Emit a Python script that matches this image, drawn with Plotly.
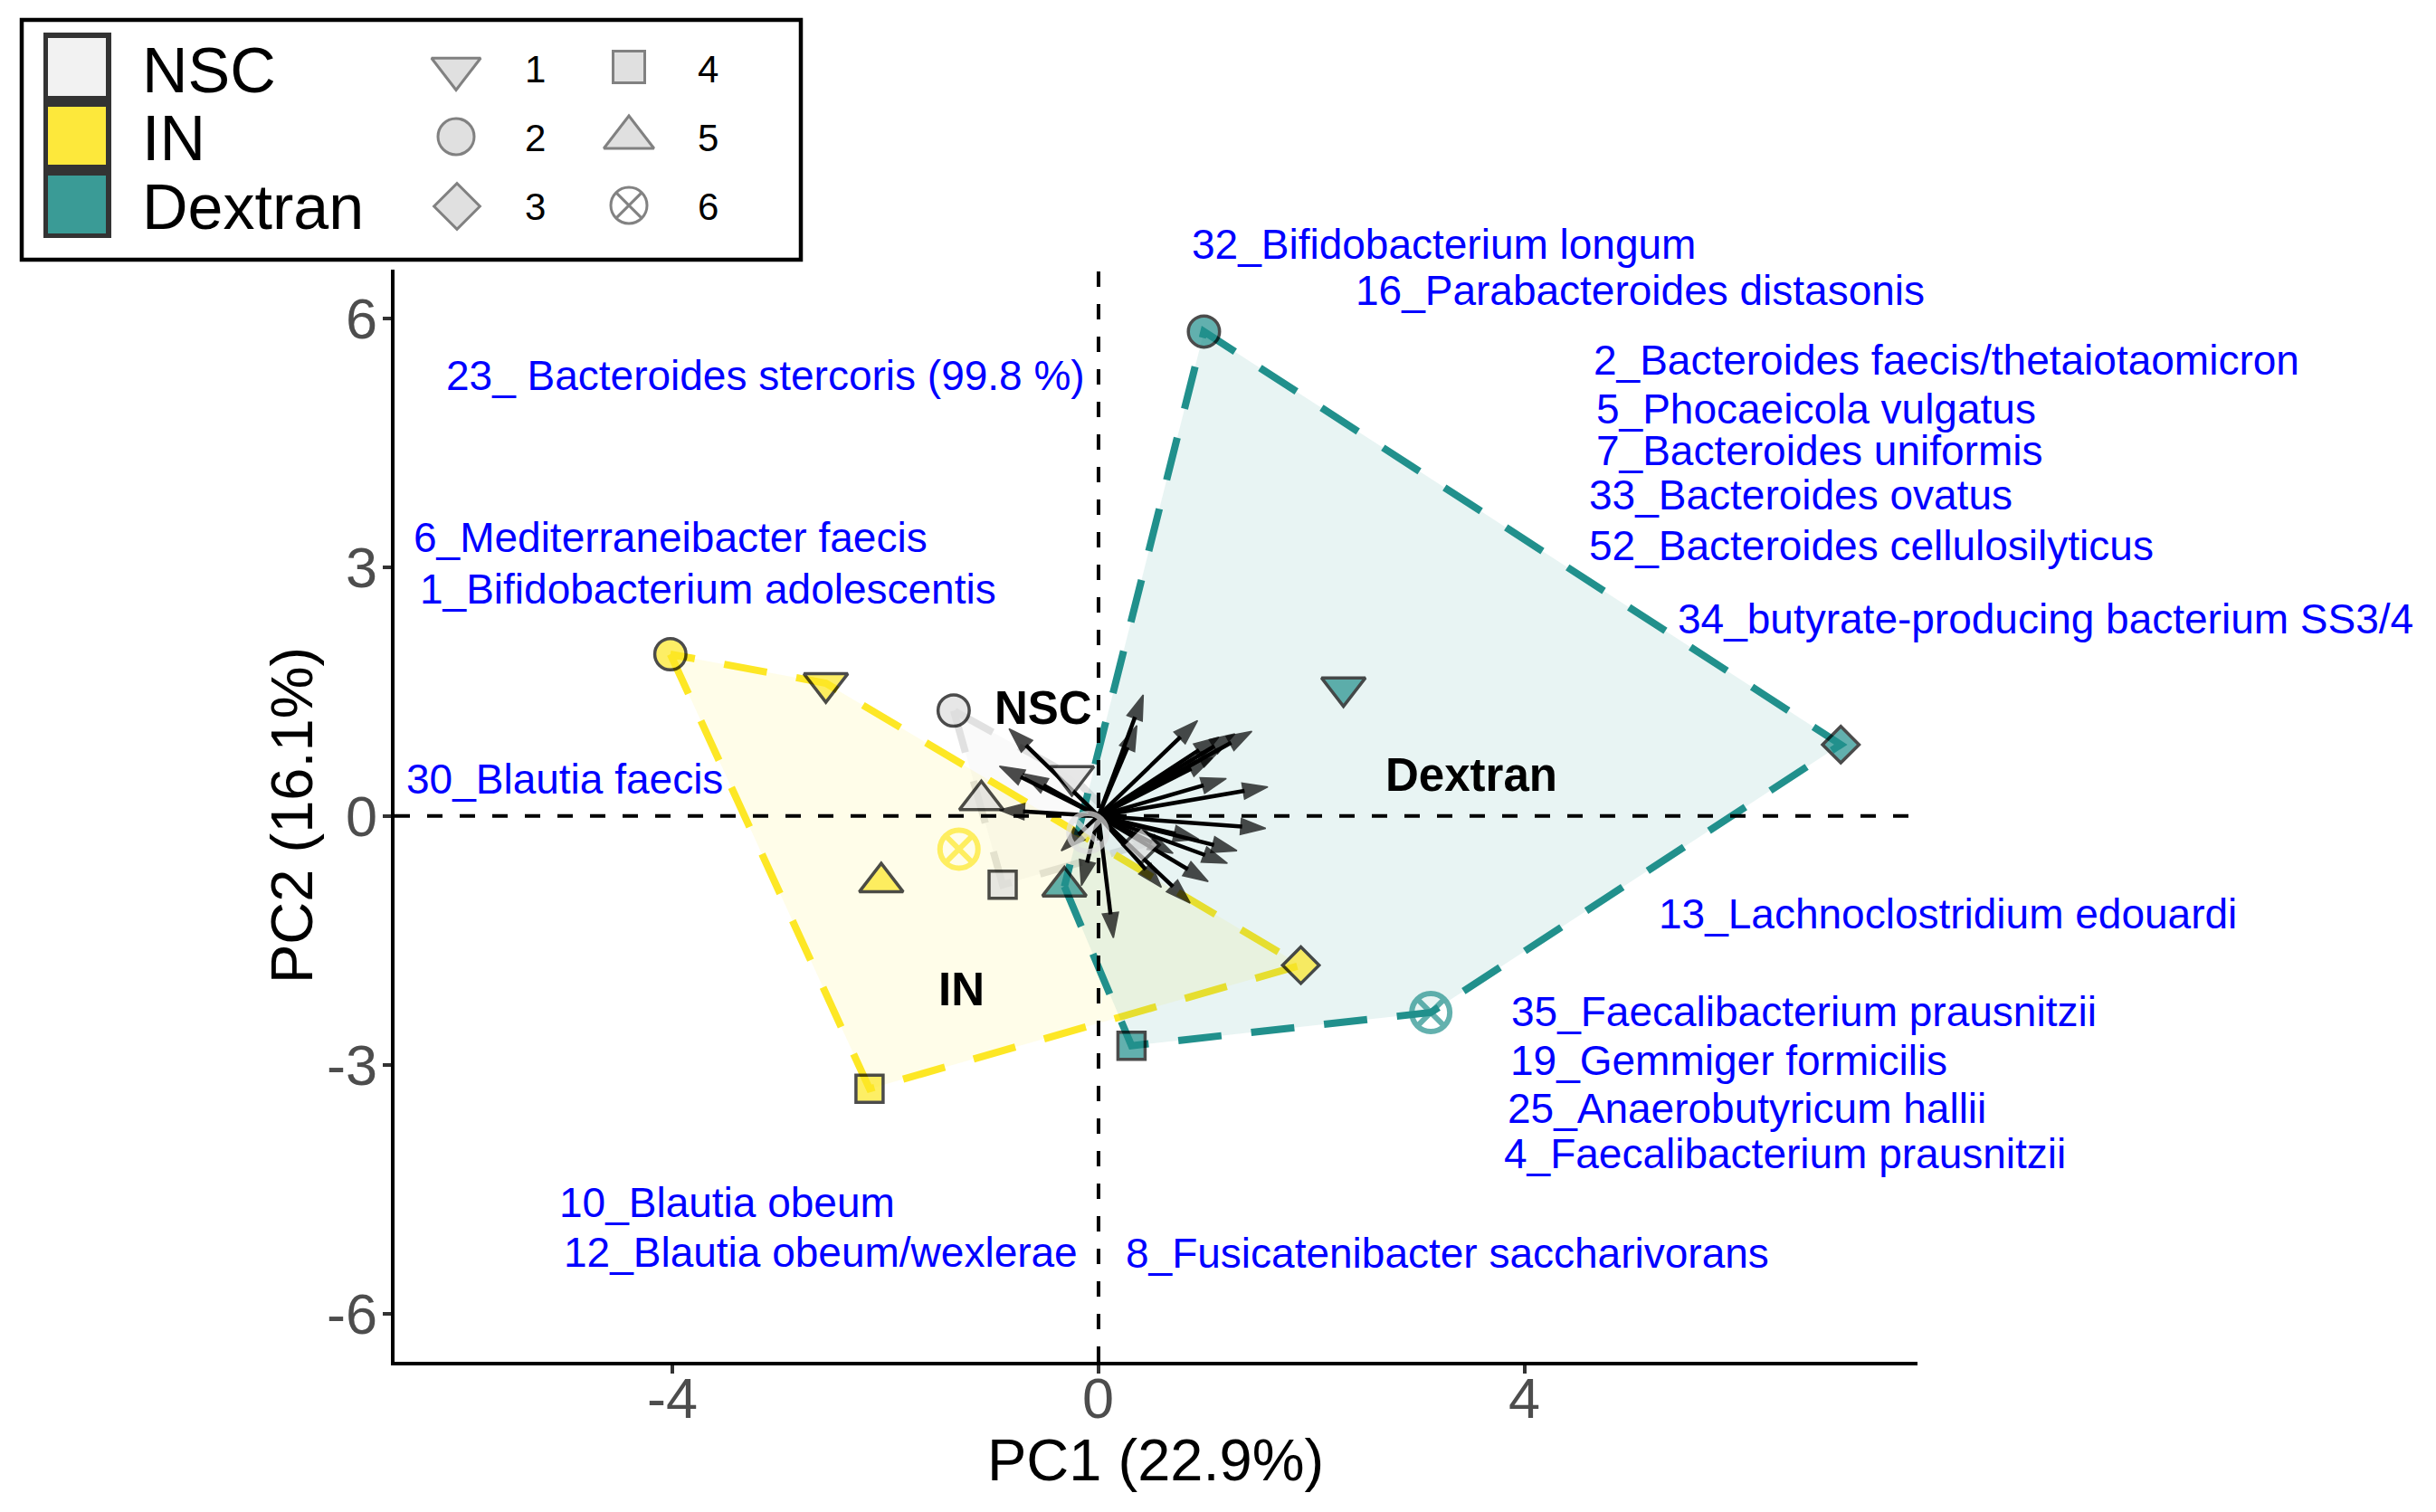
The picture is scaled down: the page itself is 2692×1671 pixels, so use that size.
import plotly.graph_objects as go

# ---------------- data ----------------
groups = ["NSC", "IN", "Dextran"]
sample_ids = [1, 2, 3, 4, 5, 6]

nsc_x = [-0.25, -1.36, 0.40, -0.90, -1.10, -0.10]
nsc_y = [0.48, 1.27, -0.35, -0.83, 0.19, -0.20]
in_x = [-2.56, -4.02, 1.90, -2.15, -2.04, -1.31]
in_y = [1.60, 1.95, -1.80, -3.29, -0.80, -0.40]
dex_x = [2.30, 0.99, 6.97, 0.31, -0.32, 3.12]
dex_y = [1.55, 5.84, 0.86, -2.77, -0.85, -2.37]

arrow_x = [0.42, 0.36, 0.93, 1.44, 1.28, 1.13, 1.16, 1.07, 1.20, 1.59,
           1.57, 1.30, 1.21, 0.94, 1.03, 0.86, 0.59, 0.70, 0.14, -0.16,
           -0.35, -0.84, -0.93, -0.71, -0.93]
arrow_y = [1.46, 1.09, 1.15, 1.02, 0.99, 0.95, 0.82, 0.70, 0.45, 0.35,
           -0.15, -0.42, -0.57, -0.28, -0.79, -1.05, -0.86, -0.45, -1.47, -0.84,
           -0.42, 1.05, 0.60, 0.51, 0.07]

label_text = [
    "32_Bifidobacterium longum",
    "16_Parabacteroides distasonis",
    "23_ Bacteroides stercoris (99.8 %)",
    "2_Bacteroides faecis/thetaiotaomicron",
    "5_Phocaeicola vulgatus",
    "7_Bacteroides uniformis",
    "33_Bacteroides ovatus",
    "52_Bacteroides cellulosilyticus",
    "6_Mediterraneibacter faecis",
    "1_Bifidobacterium adolescentis",
    "34_butyrate-producing bacterium SS3/4",
    "30_Blautia faecis",
    "13_Lachnoclostridium edouardi",
    "35_Faecalibacterium prausnitzii",
    "19_Gemmiger formicilis",
    "25_Anaerobutyricum hallii",
    "4_Faecalibacterium prausnitzii",
    "10_Blautia obeum",
    "12_Blautia obeum/wexlerae",
    "8_Fusicatenibacter saccharivorans",
]
label_x = [0.86, 2.40, -6.14, 4.63, 4.66, 4.66, 4.59, 4.59, -6.45, -6.39,
           5.42, -6.52, 5.24, 3.86, 3.85, 3.82, 3.79, -5.08, -5.04, 0.24]
label_y = [6.89, 6.33, 5.31, 5.49, 4.91, 4.40, 3.87, 3.26, 3.36, 2.74,
           2.38, 0.44, -1.18, -2.36, -2.95, -3.53, -4.07, -4.66, -5.26, -5.27]

group_label_x = [-0.52, -1.29, 3.50]
group_label_y = [1.30, -2.09, 0.49]

x_ticks = [-4, 0, 4]
x_tick_text = ["-4", "0", "4"]
y_ticks = [-6, -3, 0, 3, 6]
y_tick_text = ["-6", "-3", "0", "3", "6"]
x_title = "PC1 (22.9%)"
y_title = "PC2 (16.1%)"

# ---------------- styles ----------------
W, H = 2692, 1671
FONT = "Liberation Sans, Arial, sans-serif"
XR = [-6.61, 7.69]
YR = [-6.581, 6.586]
X_DOM = [436 / W, 2119 / W]
Y_DOM = [1 - 1505 / H, 1 - 298 / H]

marker_color = {"NSC": "#DEDEDE", "IN": "#FDE725", "Dextran": "#21908C"}
hull_line = {"NSC": "rgba(222,222,222,0.9)", "IN": "#FDE725", "Dextran": "#21908C"}
hull_fill = {"NSC": "rgba(238,238,238,0.30)", "IN": "rgba(253,231,37,0.10)",
             "Dextran": "rgba(33,144,140,0.10)"}
symbols = {1: "triangle-down", 2: "circle", 3: "diamond", 4: "square",
           5: "triangle-up", 6: "circle-x-open"}
sizes = {1: 42, 2: 34.5, 3: 31, 4: 30, 5: 42, 6: 42}
lwidth = {1: 3.5, 2: 3.5, 3: 3.5, 4: 3.5, 5: 3.5, 6: 6}

data = {"NSC": (nsc_x, nsc_y), "IN": (in_x, in_y), "Dextran": (dex_x, dex_y)}


def convex_hull(xs, ys):
    pts = sorted(zip(xs, ys))

    def cross(o, a, b):
        return (a[0] - o[0]) * (b[1] - o[1]) - (a[1] - o[1]) * (b[0] - o[0])

    lower, upper = [], []
    for p in pts:
        while len(lower) >= 2 and cross(lower[-2], lower[-1], p) <= 0:
            lower.pop()
        lower.append(p)
    for p in reversed(pts):
        while len(upper) >= 2 and cross(upper[-2], upper[-1], p) <= 0:
            upper.pop()
        upper.append(p)
    h = lower[:-1] + upper[:-1]
    h.append(h[0])
    return [p[0] for p in h], [p[1] for p in h]


def ydom(v):
    return (v - YR[0]) / (YR[1] - YR[0])


fig = go.Figure()

# hulls (NSC, IN, Dextran order)
for g in groups:
    hx, hy = convex_hull(*data[g])
    fig.add_trace(go.Scatter(x=hx, y=hy, mode="none", fill="toself",
                             fillcolor=hull_fill[g], hoverinfo="skip",
                             showlegend=False))
    fig.add_trace(go.Scatter(x=hx, y=hy, mode="lines",
                             line=dict(color=hull_line[g], width=8, dash="48px,33px"),
                             hoverinfo="skip", showlegend=False))

# reference lines
fig.add_trace(go.Scatter(x=XR, y=[0, 0], mode="lines",
                         line=dict(color="black", width=4, dash="17px,19px"),
                         hoverinfo="skip", showlegend=False))
fig.add_trace(go.Scatter(x=[0, 0], y=YR, mode="lines",
                         line=dict(color="black", width=4, dash="17px,19px"),
                         hoverinfo="skip", showlegend=False))

# loading arrows
for ax_, ay_ in zip(arrow_x, arrow_y):
    fig.add_trace(go.Scatter(
        x=[0, ax_], y=[0, ay_], mode="lines+markers",
        line=dict(color="black", width=4.5),
        marker=dict(symbol="arrow", angleref="previous", size=[0, 29], color="black",
                    line=dict(width=1.5, color="black")),
        hoverinfo="skip", showlegend=False))

# sample points
for g in groups:
    xs, ys = data[g]
    fig.add_trace(go.Scatter(
        x=xs, y=ys, mode="markers",
        marker=dict(symbol=[symbols[s] for s in sample_ids],
                    size=[sizes[s] for s in sample_ids],
                    color=marker_color[g],
                    line=dict(color="black", width=[lwidth[s] for s in sample_ids])),
        name=g, showlegend=False))

annotations = []
for t, x, y in zip(label_text, label_x, label_y):
    annotations.append(dict(x=x, y=ydom(y), xref="x", yref="y domain", text=t,
                            showarrow=False, xanchor="left", yanchor="middle",
                            font=dict(family=FONT, size=46, color="#0000FF")))
for g, x, y in zip(groups, group_label_x, group_label_y):
    annotations.append(dict(x=x, y=y, xref="x", yref="y", text="<b>%s</b>" % g,
                            showarrow=False, xanchor="center", yanchor="middle",
                            font=dict(family=FONT, size=51, color="black")))

# tick labels (hyphen minus, as in reference)
for v, t in zip(x_ticks, x_tick_text):
    annotations.append(dict(x=v, y=1545, xref="x", yref="y2", text=t, showarrow=False,
                            xanchor="center", yanchor="middle",
                            font=dict(family=FONT, size=63, color="#4D4D4D")))
for v, t in zip(y_ticks, y_tick_text):
    annotations.append(dict(x=419, y=ydom(v), xref="x2", yref="y domain", text=t,
                            showarrow=False, xanchor="right", yanchor="middle",
                            font=dict(family=FONT, size=63, color="#4D4D4D")))

# axis titles
annotations.append(dict(x=1277, y=1613, xref="x2", yref="y2", text=x_title,
                        showarrow=False, xanchor="center", yanchor="middle",
                        font=dict(family=FONT, size=65, color="black")))
annotations.append(dict(x=322, y=901, xref="x2", yref="y2", text=y_title,
                        showarrow=False, xanchor="center", yanchor="middle", textangle=-90,
                        font=dict(family=FONT, size=65, color="black")))

# ---------------- custom legend (pixel overlay axes) ----------------
shapes = [
    dict(type="rect", xref="x2", yref="y2", x0=24, x1=885, y0=22, y1=287,
         line=dict(color="black", width=4.5), fillcolor="white", layer="below"),
    dict(type="rect", xref="x2", yref="y2", x0=48, x1=123, y0=36, y1=263,
         line=dict(width=0), fillcolor="#333333", layer="below"),
]
key_fill = {"NSC": "#F2F2F2", "IN": "#FDE83B", "Dextran": "#3A9B96"}
key_y = {"NSC": (42, 106), "IN": (118, 182), "Dextran": (194, 258)}
text_y = {"NSC": 78, "IN": 153, "Dextran": 229}
for g in groups:
    y0, y1 = key_y[g]
    shapes.append(dict(type="rect", xref="x2", yref="y2", x0=53, x1=117, y0=y0, y1=y1,
                       line=dict(width=0), fillcolor=key_fill[g], layer="below"))
    annotations.append(dict(x=155, y=text_y[g], xref="x2", yref="y2", text=g,
                            showarrow=False, xanchor="left", yanchor="middle",
                            font=dict(family=FONT, size=70, color="black")))

leg_pos = {1: (504, 76), 2: (504, 151), 3: (505, 228), 4: (695, 74), 5: (695, 152), 6: (695, 227)}
leg_size = {1: 47, 2: 40, 3: 39, 4: 35, 5: 48, 6: 40}
fig.add_trace(go.Scatter(
    x=[leg_pos[s][0] for s in sample_ids], y=[leg_pos[s][1] for s in sample_ids],
    xaxis="x2", yaxis="y2", mode="markers",
    marker=dict(symbol=[symbols[s] for s in sample_ids],
                size=[leg_size[s] for s in sample_ids],
                color=["#D3D3D3"] * 5 + ["#4D4D4D"],
                line=dict(color="#4D4D4D", width=3)),
    hoverinfo="skip", showlegend=False))
num_pos = {1: (591, 76), 2: (591, 152), 3: (591, 228), 4: (782, 76), 5: (782, 152), 6: (782, 228)}
for s in sample_ids:
    annotations.append(dict(x=num_pos[s][0], y=num_pos[s][1], xref="x2", yref="y2",
                            text=str(s), showarrow=False, xanchor="center", yanchor="middle",
                            font=dict(family=FONT, size=42, color="black")))

fig.update_layout(
    width=W, height=H, margin=dict(l=0, r=0, t=0, b=0),
    paper_bgcolor="white", plot_bgcolor="rgba(0,0,0,0)",
    font=dict(family=FONT),
    showlegend=False,
    xaxis=dict(domain=X_DOM, range=XR, showgrid=False, zeroline=False,
               showline=True, linecolor="black", linewidth=4, ticks="outside",
               ticklen=9, tickwidth=3.5, tickcolor="#333333", tickvals=x_ticks,
               showticklabels=False, anchor="y"),
    yaxis=dict(domain=Y_DOM, range=YR, showgrid=False, zeroline=False,
               showline=True, linecolor="black", linewidth=4, ticks="outside",
               ticklen=9, tickwidth=3.5, tickcolor="#333333", tickvals=y_ticks,
               showticklabels=False, anchor="x"),
    xaxis2=dict(domain=[0, 1], range=[0, W], visible=False, anchor="y2"),
    yaxis2=dict(domain=[0, 1], range=[H, 0], visible=False, anchor="x2"),
    annotations=annotations, shapes=shapes,
)

fig.write_html("out.html", config={"displayModeBar": False},
               post_script="document.body.style.margin='0';document.body.style.overflow='hidden';")
